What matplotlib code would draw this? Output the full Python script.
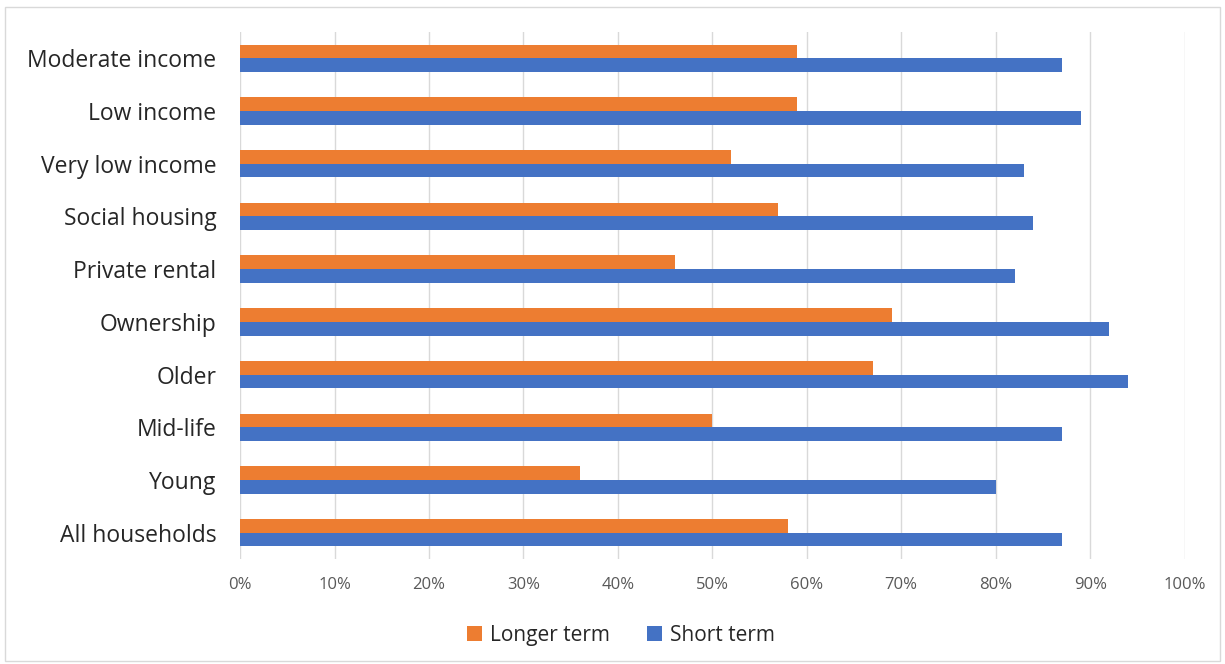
import matplotlib.pyplot as plt
import numpy as np
from matplotlib.patches import Rectangle

# categories, bottom to top
categories = ["All households", "Young", "Mid-life", "Older", "Ownership",
              "Private rental", "Social housing", "Very low income",
              "Low income", "Moderate income"]
longer_term = [58, 36, 50, 67, 69, 46, 57, 52, 59, 59]
short_term = [87, 80, 87, 94, 92, 82, 84, 83, 89, 87]
ticks = [0, 10, 20, 30, 40, 50, 60, 70, 80, 90, 100]

orange = "#ED7D31"
blue = "#4472C4"

fig = plt.figure(figsize=(12.25, 6.64), dpi=100)
ax = fig.add_axes([0.196, 0.158, 0.771, 0.794])

y = np.arange(len(categories))
h = 0.26
ax.barh(y + h / 2, longer_term, height=h, color=orange, label="Longer term", zorder=3)
ax.barh(y - h / 2, short_term, height=h, color=blue, label="Short term", zorder=3)

ax.set_xlim(0, 100)
ax.set_ylim(-0.5, len(categories) - 0.5)
ax.set_xticks(ticks)
ax.set_xticklabels([f"{t}%" for t in ticks], color="#595959", fontsize=12,
                   family="Open Sans")
ax.set_yticks(y)
ax.set_yticklabels(categories, fontsize=16.5, color="#262626", family="Open Sans")
ax.tick_params(axis="both", length=0)
ax.tick_params(axis="x", pad=13)
ax.tick_params(axis="y", pad=17)
ax.grid(axis="x", color="#D9D9D9", linewidth=1, zorder=0)
for s in ax.spines.values():
    s.set_visible(False)

leg = fig.legend(loc="center", bbox_to_anchor=(0.507, 0.043), ncol=2, frameon=False,
                 handlelength=0.7, handleheight=0.7, handletextpad=0.4,
                 columnspacing=1.8, prop={"family": "Open Sans", "size": 15})
for t in leg.get_texts():
    t.set_color("#262626")

fig.patches.append(Rectangle((0.004, 0.004), 0.992, 0.985, transform=fig.transFigure,
                             fill=False, edgecolor="#D9D9D9", linewidth=1))

fig.savefig("out.png", dpi=100)
